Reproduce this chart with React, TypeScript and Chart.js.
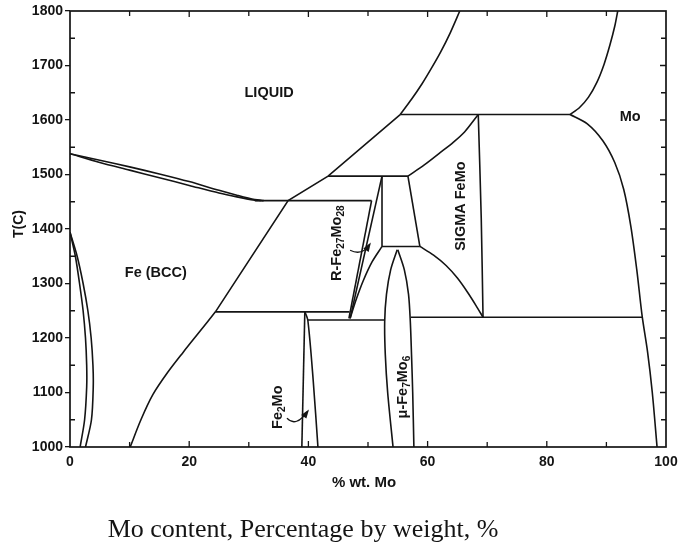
import React, { useEffect, useRef } from "react";
import { Chart, registerables } from "chart.js";

Chart.register(...registerables);

type P = [number, number];

// ---- axis ticks ----
const xTickValues = [0, 20, 40, 60, 80, 100];
const yTickValues = [1000, 1100, 1200, 1300, 1400, 1500, 1600, 1700, 1800];

// ---- phase boundaries (x: wt.% Mo, y: T in °C) ----
const liquidusFe: P[] = [[0, 1538], [5, 1526], [10, 1514], [15, 1501], [20, 1487], [25, 1471], [28, 1462], [31, 1454], [32.5, 1452]];
const solidusFe: P[] = [[0, 1538], [5, 1522], [10, 1508], [15, 1494], [20, 1480], [25, 1466], [28, 1459], [31, 1453], [32, 1452]];
const eutectic1452: P[] = [[31, 1452], [50.6, 1452]];
const bccSolvus: P[] = [[10.1, 1000], [11.9, 1050], [13.9, 1096], [16.4, 1137], [19.0, 1174], [21.7, 1211], [24.4, 1248]];
const liquidusMid: P[] = [[24.4, 1248], [36.6, 1452], [43.3, 1497], [55.4, 1610]];
const liquidusUpper: P[] = [[55.4, 1610], [57.3, 1638], [59.1, 1667], [60.7, 1696], [62.2, 1725], [63.8, 1760], [65.4, 1800]];
const peritectic1610: P[] = [[55.4, 1610], [83.9, 1610]];
const moLiquidus: P[] = [[83.9, 1610], [85.5, 1623], [87.0, 1642], [88.4, 1669], [89.6, 1702], [90.6, 1738], [91.4, 1772], [91.9, 1800]];
const moSolvus: P[] = [[83.9, 1610], [86.8, 1593], [89.4, 1562], [91.4, 1522], [92.9, 1473], [94.1, 1405], [95.1, 1325], [96.0, 1240], [96.9, 1175], [97.7, 1100], [98.5, 1000]];
const sigmaLiquidus: P[] = [[56.7, 1497], [59.5, 1518], [62.1, 1540], [64.3, 1559], [66.2, 1578], [68.5, 1610]];
const sigmaRight: P[] = [[68.5, 1610], [69.0, 1420], [69.3, 1238]];
const sigmaLowerLeft: P[] = [[58.7, 1368], [61.0, 1352], [63.1, 1333], [65.0, 1310], [66.7, 1284], [68.1, 1260], [69.3, 1238]];
const plateau1497: P[] = [[43.3, 1497], [56.7, 1497]];
const trapLeft: P[] = [[52.35, 1497], [52.35, 1368]];
const trapBottom: P[] = [[52.35, 1368], [58.7, 1368]];
const trapRight: P[] = [[56.7, 1497], [58.7, 1368]];
const rLeft: P[] = [[50.6, 1452], [46.8, 1236]];
const rRight: P[] = [[52.35, 1497], [47.0, 1236]];
const rCurve: P[] = [[47.0, 1236], [48.0, 1270], [49.2, 1305], [50.7, 1340], [52.35, 1368]];
const line1248: P[] = [[24.4, 1248], [46.9, 1248]];
const fe2moLeft: P[] = [[39.4, 1248], [38.9, 1000]];
const fe2moRight: P[] = [[39.4, 1248], [39.9, 1233], [40.8, 1123], [41.6, 1000]];
const line1233: P[] = [[39.9, 1233], [52.7, 1233]];
const muLeft: P[] = [[54.9, 1362], [53.8, 1325], [53.1, 1280], [52.8, 1230], [52.9, 1170], [53.3, 1100], [54.2, 1000]];
const muRight: P[] = [[55.0, 1362], [56.1, 1325], [56.8, 1280], [57.1, 1230], [57.3, 1170], [57.5, 1100], [57.7, 1000]];
const line1238: P[] = [[57.2, 1238], [96.0, 1238]];
const gammaOuter: P[] = [[0, 1394], [1.2, 1350], [2.2, 1300], [3.0, 1250], [3.55, 1200], [3.85, 1150], [3.9, 1110], [3.6, 1050], [2.6, 1000]];
const gammaInner: P[] = [[0, 1394], [0.9, 1350], [1.6, 1300], [2.2, 1250], [2.6, 1200], [2.8, 1150], [2.8, 1110], [2.45, 1050], [1.7, 1000]];

// ---- region labels (anchor in data space) ----
type Part = { t: string; sub?: boolean };
const regionLabels: { parts: Part[]; at: P; rot: boolean }[] = [
  { parts: [{ t: "LIQUID" }], at: [33.4, 1649], rot: false },
  { parts: [{ t: "Fe (BCC)" }], at: [14.4, 1319], rot: false },
  { parts: [{ t: "Mo" }], at: [94.0, 1606], rot: false },
  { parts: [{ t: "SIGMA FeMo" }], at: [65.6, 1442], rot: true },
  { parts: [{ t: "R-Fe" }, { t: "27", sub: true }, { t: "Mo" }, { t: "28", sub: true }], at: [44.8, 1374], rot: true },
  { parts: [{ t: "Fe" }, { t: "2", sub: true }, { t: "Mo" }], at: [34.9, 1073], rot: true },
  { parts: [{ t: "\u03BC-Fe" }, { t: "7", sub: true }, { t: "Mo" }, { t: "6", sub: true }], at: [55.8, 1110], rot: true },
];

// ---- pointer arrows: start, control, end (data space) ----
const arrows: [P, P, P][] = [
  [[47.0, 1361], [49.0, 1350], [50.3, 1372]],
  [[36.4, 1053], [37.9, 1035], [39.9, 1066]],
];

const curves: { pts: P[]; tension: number }[] = [
  { pts: liquidusFe, tension: 0.3 },
  { pts: solidusFe, tension: 0.3 },
  { pts: eutectic1452, tension: 0 },
  { pts: bccSolvus, tension: 0.3 },
  { pts: liquidusMid, tension: 0 },
  { pts: liquidusUpper, tension: 0.3 },
  { pts: peritectic1610, tension: 0 },
  { pts: moLiquidus, tension: 0.3 },
  { pts: moSolvus, tension: 0.3 },
  { pts: sigmaLiquidus, tension: 0.3 },
  { pts: sigmaRight, tension: 0.3 },
  { pts: sigmaLowerLeft, tension: 0.3 },
  { pts: plateau1497, tension: 0 },
  { pts: trapLeft, tension: 0 },
  { pts: trapBottom, tension: 0 },
  { pts: trapRight, tension: 0 },
  { pts: rLeft, tension: 0 },
  { pts: rRight, tension: 0 },
  { pts: rCurve, tension: 0.3 },
  { pts: line1248, tension: 0 },
  { pts: fe2moLeft, tension: 0 },
  { pts: fe2moRight, tension: 0.3 },
  { pts: line1233, tension: 0 },
  { pts: muLeft, tension: 0.3 },
  { pts: muRight, tension: 0.3 },
  { pts: line1238, tension: 0 },
  { pts: gammaOuter, tension: 0.3 },
  { pts: gammaInner, tension: 0.3 },
];

const SANS = '"Liberation Sans", Arial, Helvetica, sans-serif';
const INK = "#141414";

function drawParts(ctx: CanvasRenderingContext2D, parts: Part[], x: number, y: number, rot: boolean, size: number) {
  const subSize = size * 0.7;
  const widths = parts.map((p) => {
    ctx.font = `bold ${p.sub ? subSize : size}px ${SANS}`;
    return ctx.measureText(p.t).width;
  });
  const total = widths.reduce((a, b) => a + b, 0);
  ctx.save();
  ctx.translate(x, y);
  if (rot) ctx.rotate(-Math.PI / 2);
  ctx.textBaseline = "middle";
  ctx.textAlign = "left";
  let cx = -total / 2;
  parts.forEach((p, i) => {
    ctx.font = `bold ${p.sub ? subSize : size}px ${SANS}`;
    ctx.fillText(p.t, cx, p.sub ? size * 0.32 : 0);
    cx += widths[i];
  });
  ctx.restore();
}

const decorPlugin = {
  id: "decor",
  afterDatasetsDraw(chart: any) {
    const { ctx, chartArea: a, scales } = chart;
    const xs = scales.x;
    const ys = scales.y;
    ctx.save();
    ctx.strokeStyle = INK;
    ctx.fillStyle = INK;
    // frame
    ctx.lineWidth = 1.7;
    ctx.strokeRect(a.left, a.top, a.right - a.left, a.bottom - a.top);
    // inward ticks
    ctx.lineWidth = 1.3;
    ctx.beginPath();
    for (let v = 10; v < 100; v += 10) {
      const px = xs.getPixelForValue(v);
      const len = v % 20 === 0 ? 6 : 5;
      ctx.moveTo(px, a.bottom);
      ctx.lineTo(px, a.bottom - len);
      ctx.moveTo(px, a.top);
      ctx.lineTo(px, a.top + len);
    }
    for (let v = 1050; v < 1800; v += 50) {
      const py = ys.getPixelForValue(v);
      const len = v % 100 === 0 ? 6 : 5;
      ctx.moveTo(a.left, py);
      ctx.lineTo(a.left + (v % 100 === 0 ? 0 : 5), py);
      ctx.moveTo(a.right, py);
      ctx.lineTo(a.right - len, py);
    }
    ctx.stroke();

    // arrows
    ctx.lineWidth = 1.3;
    arrows.forEach(([s, c, e]) => {
      const sx = xs.getPixelForValue(s[0]), sy = ys.getPixelForValue(s[1]);
      const cx = xs.getPixelForValue(c[0]), cy = ys.getPixelForValue(c[1]);
      const ex = xs.getPixelForValue(e[0]), ey = ys.getPixelForValue(e[1]);
      ctx.beginPath();
      ctx.moveTo(sx, sy);
      ctx.quadraticCurveTo(cx, cy, ex, ey);
      ctx.stroke();
      const ang = Math.atan2(ey - cy, ex - cx);
      const L = 7, W = 3.2;
      ctx.beginPath();
      ctx.moveTo(ex + Math.cos(ang) * 2, ey + Math.sin(ang) * 2);
      ctx.lineTo(ex - Math.cos(ang) * L + Math.sin(ang) * W, ey - Math.sin(ang) * L - Math.cos(ang) * W);
      ctx.lineTo(ex - Math.cos(ang) * L - Math.sin(ang) * W, ey - Math.sin(ang) * L + Math.cos(ang) * W);
      ctx.closePath();
      ctx.fill();
    });

    // region labels
    regionLabels.forEach((l) => {
      drawParts(ctx, l.parts, xs.getPixelForValue(l.at[0]), ys.getPixelForValue(l.at[1]), l.rot, 14.5);
    });

    // axis titles
    ctx.textAlign = "center";
    ctx.textBaseline = "middle";
    ctx.font = `bold 15px ${SANS}`;
    ctx.fillText("% wt. Mo", 364, 483);
    drawParts(ctx, [{ t: "T(C)" }], 19, 224, true, 14);

    // caption
    ctx.font = `26px "Liberation Serif", "Times New Roman", serif`;
    ctx.textAlign = "center";
    ctx.textBaseline = "alphabetic";
    ctx.fillText("Mo content, Percentage by weight, %", 303, 537);
    ctx.restore();
  },
};

export default function App() {
  const ref = useRef<HTMLCanvasElement>(null);
  useEffect(() => {
    const canvas = ref.current;
    if (!canvas) return;
    const datasets = curves.map((c) => ({
      data: c.pts.map(([x, y]) => ({ x, y })),
      showLine: true,
      pointRadius: 0,
      pointHoverRadius: 0,
      borderColor: INK,
      borderWidth: 1.6,
      tension: c.tension,
      fill: false,
    }));
    const tickFont = { family: SANS, size: 14, weight: "bold" as const };
    const chart = new Chart(canvas, {
      type: "scatter",
      data: { datasets },
      options: {
        animation: false,
        responsive: false,
        events: [],
        layout: { padding: { top: 11, right: 12, left: 0, bottom: 0 } },
        plugins: { legend: { display: false }, tooltip: { enabled: false } },
        scales: {
          x: {
            type: "linear",
            min: 0,
            max: 100,
            afterBuildTicks: (s: any) => {
              s.ticks = xTickValues.map((v) => ({ value: v }));
            },
            afterFit: (s: any) => {
              s.height = 97;
              s.paddingLeft = 0;
              s.paddingRight = 0;
            },
            grid: { display: true, drawOnChartArea: false, drawTicks: false },
            border: { display: false },
            ticks: { font: tickFont, color: INK, padding: 7, maxRotation: 0, callback: (v: any) => String(v) },
          },
          y: {
            type: "linear",
            min: 1000,
            max: 1800,
            afterBuildTicks: (s: any) => {
              s.ticks = yTickValues.map((v) => ({ value: v }));
            },
            afterFit: (s: any) => {
              s.width = 70;
              s.paddingTop = 0;
              s.paddingBottom = 0;
            },
            grid: { display: true, drawOnChartArea: false, drawTicks: true, tickLength: 5, color: INK, lineWidth: 1.3 },
            border: { display: false },
            ticks: { font: tickFont, color: INK, padding: 2, callback: (v: any) => String(v) },
          },
        },
      },
      plugins: [decorPlugin],
    } as any);
    return () => chart.destroy();
  }, []);
  return (
    <div style={{ position: "absolute", left: 0, top: 0, width: 678, height: 544, background: "#fff" }}>
      <canvas ref={ref} width={678} height={544} style={{ display: "block" }} />
    </div>
  );
}
